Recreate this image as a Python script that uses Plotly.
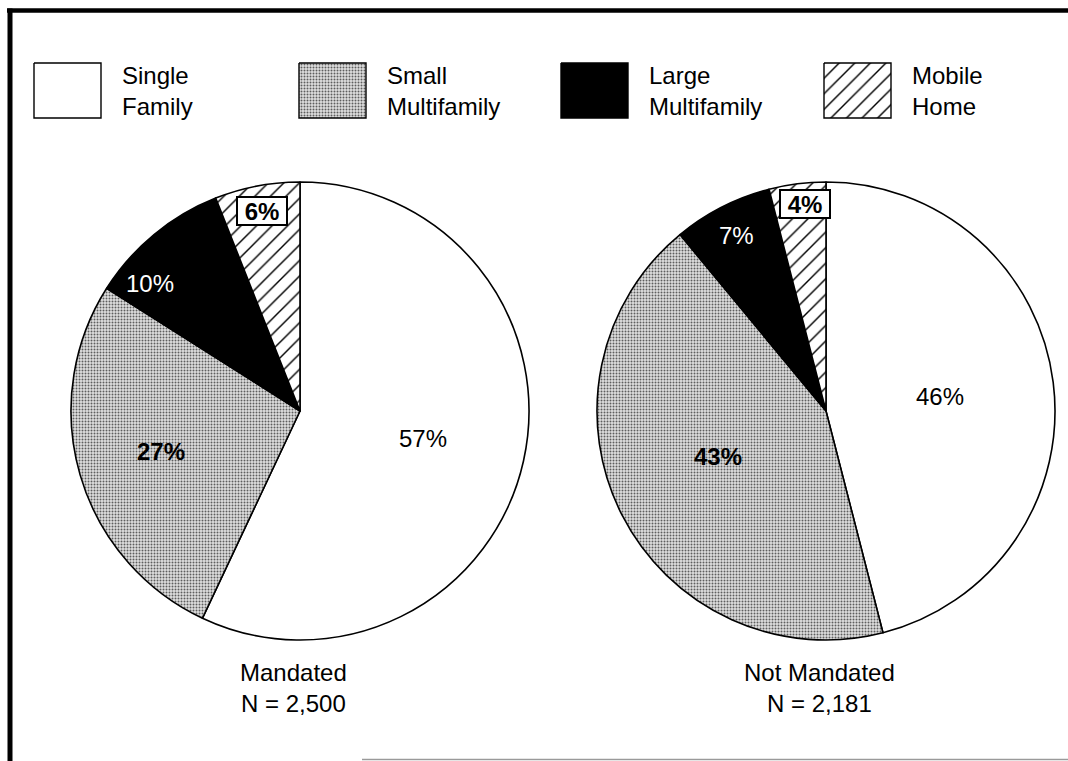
import math
import plotly.graph_objects as go

# Housing type shares (percent) for the two groups
categories = ["Single Family", "Small Multifamily", "Large Multifamily", "Mobile Home"]
legend_lines = ["Single<br>Family", "Small<br>Multifamily", "Large<br>Multifamily", "Mobile<br>Home"]
mandated = [57, 27, 10, 6]
not_mandated = [46, 43, 7, 4]
group_titles = ["Mandated<br>N = 2,500", "Not Mandated<br>N = 2,181"]

W, H = 1068, 761
FONT = "Liberation Sans, Arial, Helvetica, sans-serif"

# fill styles per category
fills = [
    dict(color="white", pattern=None),
    dict(color="#d0d0d0", pattern=dict(shape=".", fgcolor="#5e5e5e", bgcolor="#e0e0e0", size=3, solidity=0.35)),
    dict(color="black", pattern=None),
    dict(color="white", pattern=dict(shape="/", fgcolor="black", bgcolor="white", size=11, solidity=0.13)),
]

# pie geometry in pixels (centre x, centre y, radius)
pies = [
    dict(values=mandated, cx=300, cy=411, r=229, title_x=293),
    dict(values=not_mandated, cx=826, cy=411, r=229, title_x=819),
]

# label placement per slice: (radius fraction, angle offset deg, text colour, bold, boxed)
label_style = [
    [(0.55, 0, "black", False, False), (0.63, 0, "black", True, False),
     (0.86, -10, "white", False, False), (0.89, 0, "black", True, True)],
    [(0.50, 0, "black", False, False), (0.51, 4, "black", True, False),
     (0.86, 0, "white", False, False), (0.91, 1.5, "black", True, True)],
]

fig = go.Figure()

for p in pies:
    cx, cy, r = p["cx"], p["cy"], p["r"]
    patterns = []
    for f in fills:
        if f["pattern"] is None:
            patterns.append(dict(shape="", fgcolor=f["color"], bgcolor=f["color"]))
        else:
            patterns.append(f["pattern"])
    fig.add_trace(go.Pie(
        labels=categories,
        values=p["values"],
        sort=False,
        direction="clockwise",
        rotation=0,
        textinfo="none",
        hoverinfo="skip",
        showlegend=False,
        marker=dict(
            colors=[f["color"] for f in fills],
            line=dict(color="black", width=1.6),
            pattern=dict(
                shape=[pt["shape"] for pt in patterns],
                fgcolor=[pt["fgcolor"] for pt in patterns],
                bgcolor=[pt["bgcolor"] for pt in patterns],
                size=[pt.get("size", 8) for pt in patterns],
                solidity=[pt.get("solidity", 0.3) for pt in patterns],
                fillmode="replace",
            ),
        ),
        domain=dict(x=[(cx - r) / W, (cx + r) / W], y=[1 - (cy + r) / H, 1 - (cy - r) / H]),
    ))

# full-figure pixel axes for legend boxes, labels and frame
fig.update_layout(
    xaxis=dict(range=[0, W], visible=False, domain=[0, 1], fixedrange=True),
    yaxis=dict(range=[H, 0], visible=False, domain=[0, 1], fixedrange=True),
)

# legend swatches
box_x0 = [34, 299, 561, 824]
box_w, box_y0, box_y1 = 67, 63, 118
for i, x0 in enumerate(box_x0):
    f = fills[i]
    kw = {}
    if f["pattern"] is not None:
        kw["fillpattern"] = dict(shape=f["pattern"]["shape"], fgcolor=f["pattern"]["fgcolor"],
                                 bgcolor=f["pattern"]["bgcolor"], size=f["pattern"]["size"],
                                 solidity=f["pattern"]["solidity"], fillmode="replace")
    fig.add_trace(go.Scatter(
        x=[x0, x0 + box_w, x0 + box_w, x0, x0],
        y=[box_y0, box_y0, box_y1, box_y1, box_y0],
        mode="lines", fill="toself", fillcolor=f["color"],
        line=dict(color="black", width=1.4),
        hoverinfo="skip", showlegend=False, **kw,
    ))
    fig.add_annotation(x=x0 + box_w + 19, y=91, text=legend_lines[i], showarrow=False,
                       xanchor="left", yanchor="middle", align="left",
                       font=dict(family=FONT, size=24, color="black"))

# slice labels, placed along each slice's mid angle
for idx, (p, styles) in enumerate(zip(pies, label_style)):
    vals = p["values"]
    total = sum(vals)
    cum = 0
    for v, (frac, off, col, bold, boxed) in zip(vals, styles):
        mid = (cum + v / 2) / total * 360 + off
        cum += v
        a = math.radians(mid)
        x = p["cx"] + frac * p["r"] * math.sin(a)
        y = p["cy"] - frac * p["r"] * math.cos(a)
        txt = f"{v}%"
        if bold:
            txt = f"<b>{txt}</b>"
        kw = {}
        if boxed:
            kw = dict(bgcolor="white", bordercolor="black", borderwidth=2, borderpad=1,
                      width=46, height=24)
        fig.add_annotation(x=x, y=y, text=txt, showarrow=False, xanchor="center", yanchor="middle",
                           font=dict(family=FONT, size=24, color=col), **kw)
    fig.add_annotation(x=p["title_x"], y=688, text=group_titles[idx], showarrow=False,
                       xanchor="center", yanchor="middle", align="center",
                       font=dict(family=FONT, size=24, color="black"))

# frame lines
fig.add_shape(type="line", x0=7, x1=W, y0=10.5, y1=10.5, line=dict(color="black", width=4.5))
fig.add_shape(type="line", x0=10, x1=10, y0=8.5, y1=H, line=dict(color="black", width=5))
fig.add_shape(type="line", x0=362, x1=W, y0=759.5, y1=759.5, line=dict(color="#9a9a9a", width=1.5))

fig.update_layout(
    width=W, height=H,
    margin=dict(l=0, r=0, t=0, b=0),
    paper_bgcolor="white", plot_bgcolor="white",
    showlegend=False,
)

fig.write_html("out.html")
